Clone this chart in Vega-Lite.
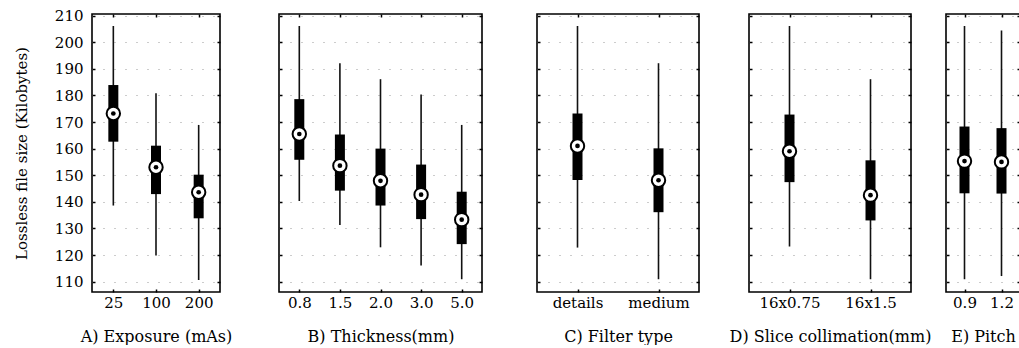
{
  "$schema": "https://vega.github.io/schema/vega-lite/v6.json",
  "padding": {"left": 13, "top": 7, "right": 0, "bottom": 0},
  "background": "white",
  "data": {"values": [
    {"panel": "A", "cat": "25", "lo": 138.6, "q1": 162.6, "med": 173.2, "q3": 183.9, "hi": 206.1},
    {"panel": "A", "cat": "100", "lo": 119.8, "q1": 142.9, "med": 153.0, "q3": 161.1, "hi": 180.8},
    {"panel": "A", "cat": "200", "lo": 110.6, "q1": 133.8, "med": 143.6, "q3": 150.2, "hi": 168.9},
    {"panel": "B", "cat": "0.8", "lo": 140.3, "q1": 155.8, "med": 165.5, "q3": 178.6, "hi": 206.1},
    {"panel": "B", "cat": "1.5", "lo": 131.3, "q1": 144.2, "med": 153.6, "q3": 165.3, "hi": 192.1},
    {"panel": "B", "cat": "2.0", "lo": 122.9, "q1": 138.6, "med": 147.9, "q3": 160.0, "hi": 186.1},
    {"panel": "B", "cat": "3.0", "lo": 116.1, "q1": 133.5, "med": 142.7, "q3": 154.0, "hi": 180.3},
    {"panel": "B", "cat": "5.0", "lo": 110.9, "q1": 124.1, "med": 133.3, "q3": 143.8, "hi": 168.9},
    {"panel": "C", "cat": "details", "lo": 122.8, "q1": 148.2, "med": 161.0, "q3": 173.2, "hi": 206.1},
    {"panel": "C", "cat": "medium", "lo": 110.9, "q1": 136.1, "med": 148.1, "q3": 160.1, "hi": 192.1},
    {"panel": "D", "cat": "16x0.75", "lo": 123.2, "q1": 147.4, "med": 159.0, "q3": 172.8, "hi": 206.1},
    {"panel": "D", "cat": "16x1.5", "lo": 110.9, "q1": 133.0, "med": 142.5, "q3": 155.6, "hi": 186.1},
    {"panel": "E", "cat": "0.9", "lo": 110.9, "q1": 143.2, "med": 155.3, "q3": 168.3, "hi": 206.1},
    {"panel": "E", "cat": "1.2", "lo": 112.1, "q1": 143.1, "med": 155.0, "q3": 167.7, "hi": 204.4}
  ]},
  "bounds": "flush",
  "spacing": 59,
  "hconcat": [
    {
      "width": 128, "height": 278,
      "transform": [{"filter": "datum.panel === 'A'"}],
      "layer": [
        {"mark": {"type": "rule", "strokeWidth": 1.6, "color": "#111"}, "encoding": {"x": {"field": "cat", "type": "ordinal", "sort": null, "scale": {"type": "point", "padding": 0.5}, "axis": {"title": "A) Exposure (mAs)"}}, "y": {"field": "lo", "type": "quantitative", "scale": {"domain": [106.1, 210.6], "nice": false, "zero": false}, "axis": {"title": "Lossless file size (Kilobytes)", "values": [110, 120, 130, 140, 150, 160, 170, 180, 190, 200, 210]}}, "y2": {"field": "hi"}}},
        {"mark": {"type": "bar", "size": 10, "color": "black"}, "encoding": {"x": {"field": "cat", "type": "ordinal", "sort": null, "axis": null}, "y": {"field": "q1", "type": "quantitative", "axis": null}, "y2": {"field": "q3"}}},
        {"mark": {"type": "point", "filled": true, "fill": "white", "stroke": "black", "strokeWidth": 2, "size": 180, "opacity": 1}, "encoding": {"x": {"field": "cat", "type": "ordinal", "sort": null, "axis": null}, "y": {"field": "med", "type": "quantitative", "axis": null}}},
        {"mark": {"type": "circle", "color": "black", "size": 22, "opacity": 1}, "encoding": {"x": {"field": "cat", "type": "ordinal", "sort": null, "axis": null}, "y": {"field": "med", "type": "quantitative", "axis": null}}},
        {"mark": {"type": "rule", "opacity": 0}, "encoding": {"x": {"field": "cat", "type": "ordinal", "sort": null, "axis": {"orient": "top", "labels": false, "title": null}}, "y": {"field": "med", "type": "quantitative", "axis": {"orient": "right", "labels": false, "title": null, "grid": false, "values": [110, 120, 130, 140, 150, 160, 170, 180, 190, 200, 210]}}}}
      ],
      "resolve": {"axis": {"x": "independent", "y": "independent"}}
    },
    {
      "bounds": "flush",
      "spacing": 55,
      "hconcat": [
        {
          "width": 203, "height": 278,
          "transform": [{"filter": "datum.panel === 'B'"}],
          "layer": [
            {"mark": {"type": "rule", "strokeWidth": 1.6, "color": "#111"}, "encoding": {"x": {"field": "cat", "type": "ordinal", "sort": null, "scale": {"type": "point", "padding": 0.5}, "axis": {"title": "B) Thickness(mm)"}}, "y": {"field": "lo", "type": "quantitative", "scale": {"domain": [106.1, 210.6], "nice": false, "zero": false}, "axis": {"title": null, "labels": false, "values": [110, 120, 130, 140, 150, 160, 170, 180, 190, 200, 210]}}, "y2": {"field": "hi"}}},
            {"mark": {"type": "bar", "size": 10, "color": "black"}, "encoding": {"x": {"field": "cat", "type": "ordinal", "sort": null, "axis": null}, "y": {"field": "q1", "type": "quantitative", "axis": null}, "y2": {"field": "q3"}}},
            {"mark": {"type": "point", "filled": true, "fill": "white", "stroke": "black", "strokeWidth": 2, "size": 180, "opacity": 1}, "encoding": {"x": {"field": "cat", "type": "ordinal", "sort": null, "axis": null}, "y": {"field": "med", "type": "quantitative", "axis": null}}},
            {"mark": {"type": "circle", "color": "black", "size": 22, "opacity": 1}, "encoding": {"x": {"field": "cat", "type": "ordinal", "sort": null, "axis": null}, "y": {"field": "med", "type": "quantitative", "axis": null}}},
            {"mark": {"type": "rule", "opacity": 0}, "encoding": {"x": {"field": "cat", "type": "ordinal", "sort": null, "axis": {"orient": "top", "labels": false, "title": null}}, "y": {"field": "med", "type": "quantitative", "axis": {"orient": "right", "labels": false, "title": null, "grid": false, "values": [110, 120, 130, 140, 150, 160, 170, 180, 190, 200, 210]}}}}
          ],
          "resolve": {"axis": {"x": "independent", "y": "independent"}}
        },
        {
          "bounds": "flush",
          "spacing": 50,
          "hconcat": [
            {
              "width": 162, "height": 278,
              "transform": [{"filter": "datum.panel === 'C'"}],
              "layer": [
                {"mark": {"type": "rule", "strokeWidth": 1.6, "color": "#111"}, "encoding": {"x": {"field": "cat", "type": "ordinal", "sort": null, "scale": {"type": "point", "padding": 0.5}, "axis": {"title": "C) Filter type"}}, "y": {"field": "lo", "type": "quantitative", "scale": {"domain": [106.1, 210.6], "nice": false, "zero": false}, "axis": {"title": null, "labels": false, "values": [110, 120, 130, 140, 150, 160, 170, 180, 190, 200, 210]}}, "y2": {"field": "hi"}}},
                {"mark": {"type": "bar", "size": 10, "color": "black"}, "encoding": {"x": {"field": "cat", "type": "ordinal", "sort": null, "axis": null}, "y": {"field": "q1", "type": "quantitative", "axis": null}, "y2": {"field": "q3"}}},
                {"mark": {"type": "point", "filled": true, "fill": "white", "stroke": "black", "strokeWidth": 2, "size": 180, "opacity": 1}, "encoding": {"x": {"field": "cat", "type": "ordinal", "sort": null, "axis": null}, "y": {"field": "med", "type": "quantitative", "axis": null}}},
                {"mark": {"type": "circle", "color": "black", "size": 22, "opacity": 1}, "encoding": {"x": {"field": "cat", "type": "ordinal", "sort": null, "axis": null}, "y": {"field": "med", "type": "quantitative", "axis": null}}},
                {"mark": {"type": "rule", "opacity": 0}, "encoding": {"x": {"field": "cat", "type": "ordinal", "sort": null, "axis": {"orient": "top", "labels": false, "title": null}}, "y": {"field": "med", "type": "quantitative", "axis": {"orient": "right", "labels": false, "title": null, "grid": false, "values": [110, 120, 130, 140, 150, 160, 170, 180, 190, 200, 210]}}}}
              ],
              "resolve": {"axis": {"x": "independent", "y": "independent"}}
            },
            {
              "bounds": "flush",
              "spacing": 35,
              "hconcat": [
                {
                  "width": 162, "height": 278,
                  "transform": [{"filter": "datum.panel === 'D'"}],
                  "layer": [
                    {"mark": {"type": "rule", "strokeWidth": 1.6, "color": "#111"}, "encoding": {"x": {"field": "cat", "type": "ordinal", "sort": null, "scale": {"type": "point", "padding": 0.5}, "axis": {"title": "D) Slice collimation(mm)"}}, "y": {"field": "lo", "type": "quantitative", "scale": {"domain": [106.1, 210.6], "nice": false, "zero": false}, "axis": {"title": null, "labels": false, "values": [110, 120, 130, 140, 150, 160, 170, 180, 190, 200, 210]}}, "y2": {"field": "hi"}}},
                    {"mark": {"type": "bar", "size": 10, "color": "black"}, "encoding": {"x": {"field": "cat", "type": "ordinal", "sort": null, "axis": null}, "y": {"field": "q1", "type": "quantitative", "axis": null}, "y2": {"field": "q3"}}},
                    {"mark": {"type": "point", "filled": true, "fill": "white", "stroke": "black", "strokeWidth": 2, "size": 180, "opacity": 1}, "encoding": {"x": {"field": "cat", "type": "ordinal", "sort": null, "axis": null}, "y": {"field": "med", "type": "quantitative", "axis": null}}},
                    {"mark": {"type": "circle", "color": "black", "size": 22, "opacity": 1}, "encoding": {"x": {"field": "cat", "type": "ordinal", "sort": null, "axis": null}, "y": {"field": "med", "type": "quantitative", "axis": null}}},
                    {"mark": {"type": "rule", "opacity": 0}, "encoding": {"x": {"field": "cat", "type": "ordinal", "sort": null, "axis": {"orient": "top", "labels": false, "title": null}}, "y": {"field": "med", "type": "quantitative", "axis": {"orient": "right", "labels": false, "title": null, "grid": false, "values": [110, 120, 130, 140, 150, 160, 170, 180, 190, 200, 210]}}}}
                  ],
                  "resolve": {"axis": {"x": "independent", "y": "independent"}}
                },
                {
                  "width": 74, "height": 278,
                  "transform": [{"filter": "datum.panel === 'E'"}],
                  "layer": [
                    {"mark": {"type": "rule", "strokeWidth": 1.6, "color": "#111"}, "encoding": {"x": {"field": "cat", "type": "ordinal", "sort": null, "scale": {"type": "point", "padding": 0.5}, "axis": {"title": "E) Pitch"}}, "y": {"field": "lo", "type": "quantitative", "scale": {"domain": [106.1, 210.6], "nice": false, "zero": false}, "axis": {"title": null, "labels": false, "values": [110, 120, 130, 140, 150, 160, 170, 180, 190, 200, 210]}}, "y2": {"field": "hi"}}},
                    {"mark": {"type": "bar", "size": 10, "color": "black"}, "encoding": {"x": {"field": "cat", "type": "ordinal", "sort": null, "axis": null}, "y": {"field": "q1", "type": "quantitative", "axis": null}, "y2": {"field": "q3"}}},
                    {"mark": {"type": "point", "filled": true, "fill": "white", "stroke": "black", "strokeWidth": 2, "size": 180, "opacity": 1}, "encoding": {"x": {"field": "cat", "type": "ordinal", "sort": null, "axis": null}, "y": {"field": "med", "type": "quantitative", "axis": null}}},
                    {"mark": {"type": "circle", "color": "black", "size": 22, "opacity": 1}, "encoding": {"x": {"field": "cat", "type": "ordinal", "sort": null, "axis": null}, "y": {"field": "med", "type": "quantitative", "axis": null}}},
                    {"mark": {"type": "rule", "opacity": 0}, "encoding": {"x": {"field": "cat", "type": "ordinal", "sort": null, "axis": {"orient": "top", "labels": false, "title": null}}, "y": {"field": "med", "type": "quantitative", "axis": {"orient": "right", "labels": false, "title": null, "grid": false, "values": [110, 120, 130, 140, 150, 160, 170, 180, 190, 200, 210]}}}}
                  ],
                  "resolve": {"axis": {"x": "independent", "y": "independent"}}
                }
              ]
            }
          ]
        }
      ]
    }
  ],
  "config": {
    "view": {"stroke": "black", "strokeWidth": 1.6},
    "font": "DejaVu Serif, serif",
    "axis": {"domain": false, "labelFont": "DejaVu Serif, serif", "titleFont": "DejaVu Serif, serif", "labelFontSize": 15, "titleFontSize": 16, "titleFontWeight": "normal", "labelColor": "black", "titleColor": "black", "tickColor": "black", "tickSize": -3, "tickWidth": 1.5},
    "axisX": {"grid": false, "labelAngle": 0, "labelPadding": 6, "titlePadding": 18},
    "axisY": {"grid": true, "gridColor": "#999", "gridDash": [1, 10], "labelPadding": 12, "titlePadding": 25, "titleFontSize": 15}
  }
}
